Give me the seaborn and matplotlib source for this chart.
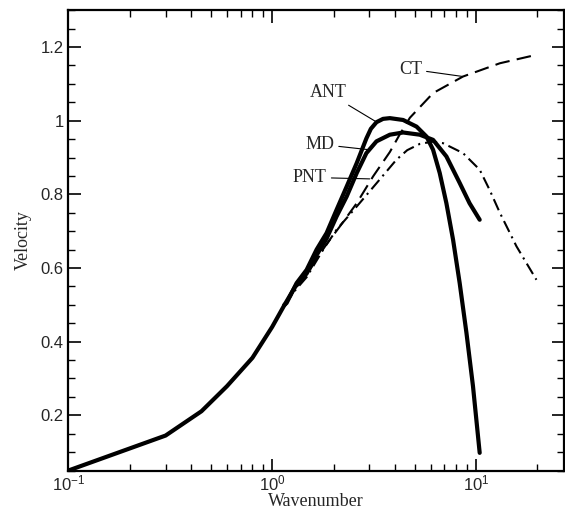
import matplotlib
matplotlib.use("Agg")
import matplotlib.pyplot as plt
from matplotlib.ticker import MultipleLocator, FormatStrFormatter
import seaborn as sns

# shared low-wavenumber branch
low_k = [0.1, 0.3, 0.45, 0.6, 0.8, 1.0, 1.15]
low_v = [0.05, 0.145, 0.211, 0.279, 0.356, 0.44, 0.50]

ant_k = [1.15, 1.177, 1.318, 1.476, 1.652, 1.85, 2.07, 2.32, 2.6, 2.9, 3.05, 3.25, 3.5, 3.78, 4.39,
         5.11, 5.72, 6.16, 6.64, 7.16, 7.72, 8.32, 8.98, 9.67, 10.43]
ant_v = [0.50, 0.505, 0.559, 0.595, 0.65, 0.695, 0.758, 0.821, 0.885, 0.952, 0.978, 0.996, 1.005, 1.007, 1.002,
         0.984, 0.957, 0.921, 0.858, 0.776, 0.677, 0.559, 0.424, 0.279, 0.098]

md_k = [1.15, 1.3, 1.476, 1.652, 1.85, 2.07, 2.32, 2.6, 2.9, 3.25, 3.78, 4.39, 5.3, 6.16, 7.16, 8.32, 9.3, 10.43]
md_v = [0.50, 0.55, 0.585, 0.635, 0.68, 0.74, 0.794, 0.858, 0.912, 0.944, 0.962, 0.968, 0.962, 0.948, 0.903, 0.831, 0.776, 0.731]

ct_k = [1.15, 1.3, 1.476, 1.652, 1.85, 2.15, 2.6, 3.13, 3.78, 4.2, 4.74, 6.16, 8.64, 13.1, 19.8]
ct_v = [0.50, 0.545, 0.58, 0.625, 0.665, 0.713, 0.776, 0.849, 0.915, 0.96, 1.008, 1.075, 1.12, 1.156, 1.179]

pnt_k = [1.15, 1.3, 1.476, 1.78, 2.07, 2.6, 3.25, 4.07, 4.6, 5.3, 6.1, 6.89, 8.64, 10.43, 11.67, 13.1, 15.8, 19.8]
pnt_v = [0.50, 0.54, 0.575, 0.65, 0.704, 0.767, 0.83, 0.894, 0.92, 0.937, 0.943, 0.939, 0.912, 0.867, 0.812, 0.75, 0.659, 0.568]

sns.set_style("ticks")
plt.rcParams["font.family"] = ["Liberation Sans", "DejaVu Sans"]
plt.rcParams["mathtext.fontset"] = "custom"
plt.rcParams["mathtext.rm"] = "Liberation Sans"

fig = plt.figure(figsize=(5.65, 5.12), dpi=100)
ax = fig.add_axes([0.121, 0.081, 0.877, 0.899])

sns.lineplot(x=low_k, y=low_v, ax=ax, color="black", lw=3)
sns.lineplot(x=ant_k, y=ant_v, ax=ax, color="black", lw=3)
sns.lineplot(x=md_k, y=md_v, ax=ax, color="black", lw=3)
sns.lineplot(x=ct_k, y=ct_v, ax=ax, color="black", lw=1.5, linestyle=(0, (7, 3.5)))
sns.lineplot(x=pnt_k, y=pnt_v, ax=ax, color="black", lw=1.5, linestyle=(0, (5.8, 2.4, 1, 2.4)))

ax.set_xscale("log")
ax.set_xlim(0.1, 27)
ax.set_ylim(0.05, 1.3)
ax.yaxis.set_major_locator(MultipleLocator(0.2))
ax.yaxis.set_minor_locator(MultipleLocator(0.05))
ax.yaxis.set_major_formatter(FormatStrFormatter("%g"))

ax.tick_params(which="both", direction="in", top=True, right=True, labelsize=12, color="black")
ax.tick_params(which="major", length=9, width=1.2)
ax.tick_params(which="minor", length=5, width=1)
ax.tick_params(axis="x", pad=2)
for s in ax.spines.values():
    s.set_linewidth(1.6)
    s.set_color("black")

serif = ["Liberation Serif", "DejaVu Serif"]
ax.set_xlabel("Wavenumber", family=serif, fontsize=13, labelpad=0)
ax.set_ylabel("Velocity", family=serif, fontsize=13, labelpad=6)

labels = [("CT", (4.77, 1.14), (8.64, 1.12)),
          ("ANT", (1.875, 1.076), (3.24, 0.997)),
          ("MD", (1.71, 0.936), (3.01, 0.921)),
          ("PNT", (1.53, 0.846), (3.01, 0.842))]
for name, txt, tip in labels:
    ax.annotate(name, xy=tip, xytext=txt, family=serif, fontsize=13,
                ha="center", va="center",
                arrowprops=dict(arrowstyle="-", lw=0.8, color="black", shrinkA=1, shrinkB=0))

fig.savefig("out.png", dpi=100)
